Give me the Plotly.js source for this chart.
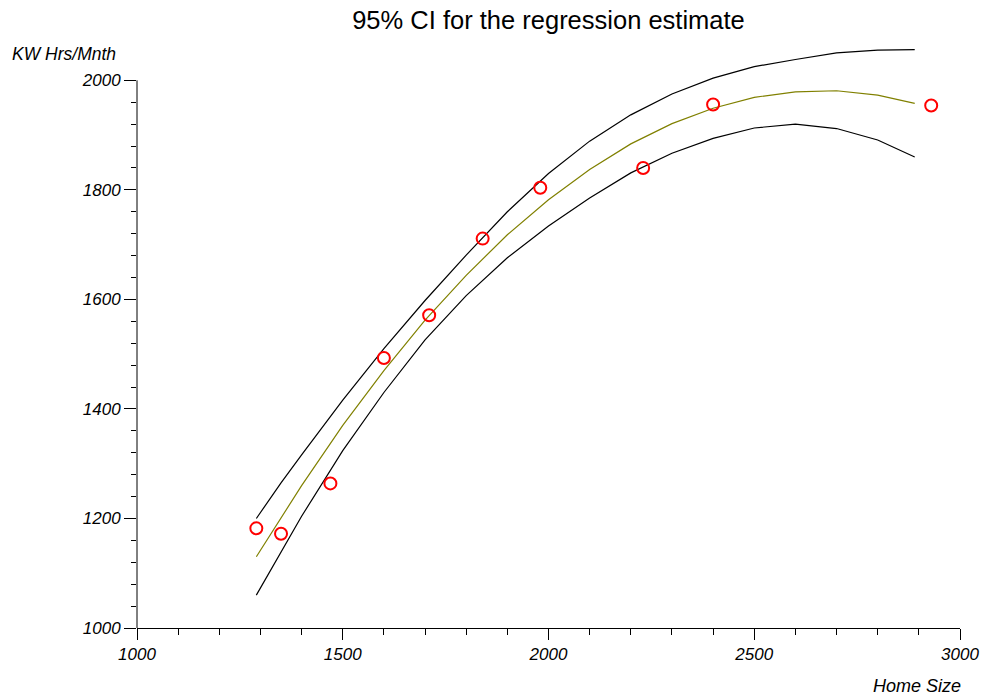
<!DOCTYPE html>
<html>
<head>
<meta charset="utf-8">
<script src="https://cdn.plot.ly/plotly-3.0.1.min.js"></script>
<style>html,body{margin:0;padding:0;background:#fff;}#chart{width:986px;height:698px;}</style>
</head>
<body>
<div id="chart"></div>
<script>
// Observed data
const homeSize = [1290, 1350, 1470, 1600, 1710, 1840, 1980, 2230, 2400, 2930];
const kwHrs    = [1182, 1172, 1264, 1493, 1571, 1711, 1804, 1840, 1956, 1954];

// Regression estimate and 95% CI bounds
const fitX   = [1290, 1350, 1400, 1500, 1600, 1700, 1800, 1900, 2000, 2100, 2200, 2300, 2400, 2500, 2600, 2700, 2800, 2890];
const fitY   = [1130, 1202, 1260, 1370, 1470, 1562, 1644, 1718, 1782, 1837, 1884, 1921, 1949, 1969, 1979, 1981, 1973, 1958];
const upperY = [1200, 1265, 1316, 1416, 1510, 1598, 1681, 1760, 1830, 1889, 1937, 1975, 2004, 2025, 2038, 2050, 2055, 2056];
const lowerY = [1060, 1139, 1204, 1324, 1430, 1526, 1607, 1676, 1734, 1785, 1831, 1867, 1894, 1913, 1920, 1912, 1891, 1860];

// Axis ticks
const xTicks = [1000, 1500, 2000, 2500, 3000];
const xMinor = [1100, 1200, 1300, 1400, 1600, 1700, 1800, 1900, 2100, 2200, 2300, 2400, 2600, 2700, 2800, 2900];
const yTicks = [1000, 1200, 1400, 1600, 1800, 2000];
const yMinor = [1040, 1080, 1120, 1160, 1240, 1280, 1320, 1360, 1440, 1480, 1520, 1560, 1640, 1680, 1720, 1760, 1840, 1880, 1920, 1960];

const FONT = 'Liberation Sans, Arial, Helvetica, sans-serif';

const traces = [
  {x: fitX, y: upperY, mode: 'lines', line: {color: '#000000', width: 1.2}, hoverinfo: 'skip'},
  {x: fitX, y: lowerY, mode: 'lines', line: {color: '#000000', width: 1.2}, hoverinfo: 'skip'},
  {x: fitX, y: fitY, mode: 'lines', line: {color: '#808000', width: 1.2}, hoverinfo: 'skip'},
  {x: homeSize, y: kwHrs, mode: 'markers', cliponaxis: false,
   marker: {symbol: 'circle-open', size: 12, color: '#ff0000', line: {width: 2, color: '#ff0000'}}}
];

const layout = {
  width: 986, height: 698,
  margin: {l: 137, r: 26, t: 42, b: 70},
  paper_bgcolor: '#ffffff', plot_bgcolor: '#ffffff',
  showlegend: false,
  font: {family: FONT, color: '#000000'},
  title: {text: '95% CI for the regression estimate', font: {family: FONT, size: 25.5, color: '#000'},
          xref: 'paper', x: 0.5, xanchor: 'center', yref: 'container', y: 0.971, yanchor: 'middle'},
  xaxis: {
    range: [1000, 3000], showgrid: false, zeroline: false,
    showline: true, linecolor: '#000000', linewidth: 1,
    tickmode: 'array', tickvals: xTicks, ticktext: xTicks.map(String),
    ticks: 'outside', ticklen: 11, tickcolor: '#000000', tickwidth: 1,
    tickfont: {family: FONT, size: 17, style: 'italic', color: '#000'},
    minor: {tickmode: 'array', tickvals: xMinor, ticks: 'outside', ticklen: 6, tickcolor: '#000000', tickwidth: 1, showgrid: false}
  },
  yaxis: {
    range: [1000, 2070], showgrid: false, zeroline: false,
    showline: false,
    tickmode: 'array', tickvals: yTicks, ticktext: yTicks.map(String),
    ticks: 'outside', ticklen: 12, tickcolor: '#000000', tickwidth: 1,
    tickfont: {family: FONT, size: 17, style: 'italic', color: '#000'},
    minor: {tickmode: 'array', tickvals: yMinor, ticks: 'outside', ticklen: 5, tickcolor: '#000000', tickwidth: 1, showgrid: false}
  },
  shapes: [
    {type: 'line', xref: 'paper', yref: 'y', x0: 0, x1: 0, y0: 1000, y1: 2000, line: {color: '#000000', width: 1}}
  ],
  annotations: [
    {text: 'KW Hrs/Mnth', xref: 'paper', yref: 'paper', x: -0.1545, y: 0.9795, xanchor: 'left', yanchor: 'middle',
     showarrow: false, font: {family: FONT, size: 17.5, style: 'italic', color: '#000'}},
    {text: 'Home Size', xref: 'paper', yref: 'paper', x: 1.004, y: -0.099, xanchor: 'right', yanchor: 'middle',
     showarrow: false, font: {family: FONT, size: 18, style: 'italic', color: '#000'}}
  ]
};

Plotly.newPlot('chart', traces, layout, {displayModeBar: false, staticPlot: true});
</script>
</body>
</html>
